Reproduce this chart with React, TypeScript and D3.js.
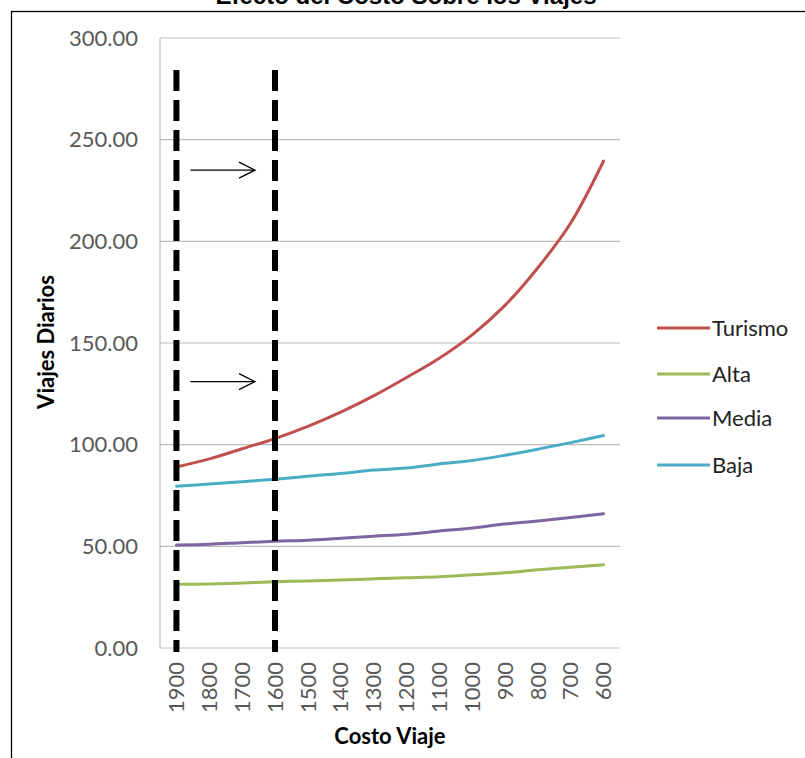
import React from "react";
import * as d3 from "d3";

const categories = ["1900", "1800", "1700", "1600", "1500", "1400", "1300", "1200", "1100", "1000", "900", "800", "700", "600"];
const turismo = [89, 93, 98, 103, 109, 116, 124, 133, 142.5, 154, 168.5, 187, 209, 239.5];
const alta = [31.3, 31.5, 32, 32.6, 33, 33.5, 34, 34.5, 35, 36, 37, 38.5, 39.7, 41];
const media = [50.6, 51, 51.8, 52.5, 53, 54, 55, 56, 57.5, 59, 61, 62.5, 64.2, 66];
const baja = [79.6, 80.6, 81.8, 83, 84.5, 85.8, 87.5, 88.5, 90.5, 92.2, 94.8, 97.8, 101, 104.5];
const seriesNames = ["Turismo", "Alta", "Media", "Baja"];
const seriesColors = ["#C0504D", "#9BBB59", "#8064A2", "#4BACC6"];
const yTicks = [0, 50, 100, 150, 200, 250, 300];
const markerCategories = ["1900", "1600"];
const arrowLevels = [235, 131];

const W = 805;
const H = 758;
const plot = { left: 160, right: 620, top: 38, bottom: 648 };

export default function App() {
  const x = d3.scalePoint<string>().domain(categories).range([plot.left, plot.right]).padding(0.5);
  const y = d3.scaleLinear().domain([0, 300]).range([plot.bottom, plot.top]);
  const seriesValues = [turismo, alta, media, baja];
  const line = d3
    .line<number>()
    .x((_, i) => x(categories[i]) as number)
    .y((d) => y(d))
    .curve(d3.curveCatmullRom.alpha(0.5));

  const font = "Lato, 'Open Sans', sans-serif";
  const x0 = x(markerCategories[0]) as number;
  const x1 = x(markerCategories[1]) as number;

  return (
    <svg width={W} height={H} style={{ position: "absolute", left: 0, top: 0, background: "#fff" }}>
      <rect x={0} y={0} width={W} height={H} fill="#fff" />
      <text x={406} y={4} textAnchor="middle" fontFamily="Arial, 'Liberation Sans', sans-serif" fontWeight="bold" fontSize={24} fill="#000">
        Efecto del Costo Sobre los Viajes
      </text>
      <rect x={11.5} y={11.5} width={W} height={H} fill="none" stroke="#000" strokeWidth={1.3} />

      {/* gridlines and axes */}
      {yTicks.map((t) => (
        <g key={t}>
          {t > 0 && <line x1={plot.left} x2={plot.right} y1={y(t)} y2={y(t)} stroke="#BDBDBD" strokeWidth={1.2} />}
          <text x={138} y={y(t)} dy="0.35em" textAnchor="end" fontFamily={font} fontSize={22} fill="#595959">
            {t.toFixed(2)}
          </text>
        </g>
      ))}
      <line x1={plot.left} x2={plot.left} y1={plot.top} y2={plot.bottom} stroke="#BDBDBD" strokeWidth={1.2} />
      <line x1={plot.left} x2={plot.right} y1={plot.bottom} y2={plot.bottom} stroke="#BDBDBD" strokeWidth={1.2} />

      {categories.map((c) => (
        <text
          key={c}
          transform={`translate(${x(c)},${662}) rotate(-90)`}
          dy="0.35em"
          textAnchor="end"
          fontFamily={font}
          fontSize={22}
          fill="#595959"
        >
          {c}
        </text>
      ))}

      <text transform={`translate(46,${342}) rotate(-90)`} textAnchor="middle" dy="0.35em" fontFamily={font} fontWeight="bold" fontSize={22} fill="#000">
        Viajes Diarios
      </text>
      <text x={390} y={744} textAnchor="middle" fontFamily={font} fontWeight="bold" fontSize={22} fill="#000">
        Costo Viaje
      </text>

      {/* series */}
      {seriesValues.map((vals, i) => (
        <path key={seriesNames[i]} d={line(vals) as string} fill="none" stroke={seriesColors[i]} strokeWidth={3} strokeLinecap="round" />
      ))}

      {/* dashed cost markers */}
      {markerCategories.map((c) => (
        <line key={c} x1={x(c)} x2={x(c)} y1={70} y2={652} stroke="#000" strokeWidth={6} strokeDasharray="21 9" />
      ))}

      {/* arrows between markers */}
      {arrowLevels.map((v) => {
        const ay = y(v);
        const ax0 = x0 + 14;
        const ax1 = x1 - 20;
        return (
          <g key={v} stroke="#000" strokeWidth={1.3} fill="none">
            <line x1={ax0} x2={ax1} y1={ay} y2={ay} />
            <polyline points={`${ax1 - 16},${ay - 8} ${ax1},${ay} ${ax1 - 16},${ay + 8}`} />
          </g>
        );
      })}

      {/* legend */}
      {seriesNames.map((n, i) => {
        const ly = [328, 374, 418, 465][i];
        return (
          <g key={n}>
            <line x1={657} x2={710} y1={ly} y2={ly} stroke={seriesColors[i]} strokeWidth={3} />
            <text x={712} y={ly} dy="0.35em" fontFamily={font} fontSize={22} fill="#222">
              {n}
            </text>
          </g>
        );
      })}
    </svg>
  );
}
